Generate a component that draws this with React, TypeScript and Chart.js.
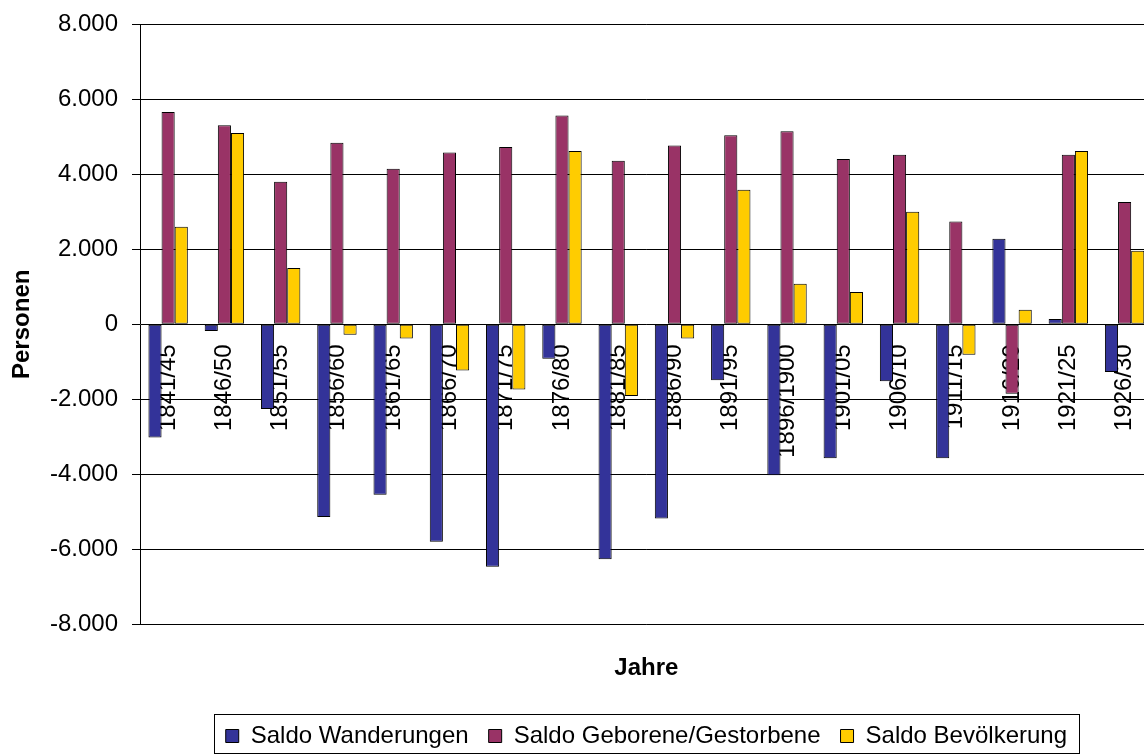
import React, { useEffect, useRef } from "react";
import { Chart, registerables } from "chart.js";

Chart.register(...registerables);

const categories = [
  "1841/45", "1846/50", "1851/55", "1856/60", "1861/65", "1866/70",
  "1871/75", "1876/80", "1881/85", "1886/90", "1891/95", "1896/1900",
  "1901/05", "1906/10", "1911/15", "1916/20", "1921/25", "1926/30",
];

const saldoWanderungen = [
  -3020, -180, -2260, -5140, -4550, -5800, -6470, -920, -6270, -5180,
  -1490, -4030, -3570, -1520, -3570, 2280, 140, -1270,
];

const saldoGeborene = [
  5660, 5310, 3800, 4840, 4150, 4580, 4730, 5570, 4360, 4770, 5040,
  5150, 4410, 4520, 2740, -1850, 4520, 3260,
];

const saldoBevoelkerung = [
  2600, 5100, 1500, -280, -380, -1230, -1740, 4620, -1910, -380, 3590,
  1080, 860, 3000, -810, 390, 4620, 1960,
];

const seriesNames = ["Saldo Wanderungen", "Saldo Geborene/Gestorbene", "Saldo Bevölkerung"];
const seriesColors = ["#333399", "#993366", "#FFCC00"];

const yMin = -8000;
const yMax = 8000;
const yStep = 2000;

const FONT = "'Liberation Sans', Arial, Helvetica, sans-serif";

function formatDE(v: number): string {
  const sign = v < 0 ? "-" : "";
  const s = Math.abs(Math.round(v)).toString();
  return sign + s.replace(/\B(?=(\d{3})+(?!\d))/g, ".");
}

const legendBorder = {
  id: "legendBorder",
  afterDraw(chart: any) {
    const lg = chart.legend;
    if (!lg || !lg.legendHitBoxes || !lg.legendHitBoxes.length) return;
    const hb = lg.legendHitBoxes;
    let l = Infinity, r = -Infinity, t = Infinity, b = -Infinity;
    for (const h of hb) {
      l = Math.min(l, h.left);
      r = Math.max(r, h.left + h.width);
      t = Math.min(t, h.top);
      b = Math.max(b, h.top + h.height);
    }
    const ctx = chart.ctx;
    ctx.save();
    ctx.strokeStyle = "#000";
    ctx.lineWidth = 1;
    const x0 = Math.round(l - 12);
    const x1 = Math.round(r + 12);
    const y0 = Math.round(t - 10);
    const y1 = Math.round(b + 5);
    ctx.strokeRect(x0 + 0.5, y0 + 0.5, x1 - x0, y1 - y0);
    ctx.restore();
  },
};

export default function App() {
  const canvasRef = useRef<HTMLCanvasElement | null>(null);

  useEffect(() => {
    if (!canvasRef.current) return;
    const datasets = [saldoWanderungen, saldoGeborene, saldoBevoelkerung].map((data, i) => ({
      label: seriesNames[i],
      data,
      backgroundColor: seriesColors[i],
      borderColor: "#000",
      borderWidth: 1,
      borderSkipped: false as const,
      categoryPercentage: 0.7,
      barPercentage: 1.0,
    }));

    const chart = new Chart(canvasRef.current, {
      type: "bar",
      data: { labels: categories, datasets },
      plugins: [legendBorder],
      options: {
        responsive: false,
        animation: false,
        layout: { padding: { top: 6, right: 2, left: 0, bottom: 2 } },
        scales: {
          x: {
            type: "category",
            position: { y: 0 } as any,
            grid: { display: false, drawTicks: false },
            border: { display: false },
            ticks: {
              autoSkip: false,
              minRotation: 90,
              maxRotation: 90,
              padding: 20,
              color: "#000",
              font: { family: FONT, size: 24 },
            },
          },
          y: {
            min: yMin,
            max: yMax,
            afterFit: (scale: any) => {
              scale.width = 140;
            },
            ticks: {
              stepSize: yStep,
              padding: 14,
              color: "#000",
              font: { family: FONT, size: 24 },
              callback: (v: any) => formatDE(Number(v)),
            },
            grid: { color: "#000", lineWidth: 1, tickLength: 8, drawTicks: true },
            border: { display: true, color: "#000", width: 1 },
            title: {
              display: true,
              text: "Personen",
              color: "#000",
              font: { family: FONT, size: 24, weight: "bold" },
              padding: { top: 8, bottom: 0 },
            },
          },
        },
        plugins: {
          title: {
            display: true,
            text: "Jahre",
            position: "bottom",
            fullSize: false,
            weight: 500,
            color: "#000",
            font: { family: FONT, size: 24, weight: "bold" },
            padding: { top: 30, bottom: 21 },
          },
          legend: {
            display: true,
            position: "bottom",
            fullSize: false,
            weight: 1000,
            labels: {
              boxWidth: 13,
              boxHeight: 13,
              color: "#000",
              padding: 20,
              font: { family: FONT, size: 24 },
            },
          },
          tooltip: { enabled: false },
        },
      },
    });
    return () => chart.destroy();
  }, []);

  return (
    <div
      style={{
        position: "fixed",
        left: 0,
        top: 0,
        width: 1144,
        height: 754,
        overflow: "hidden",
        background: "#fff",
      }}
    >
      <canvas
        ref={canvasRef}
        width={1174}
        height={764}
        style={{ display: "block", position: "absolute", left: 0, top: -4 }}
      />
    </div>
  );
}
